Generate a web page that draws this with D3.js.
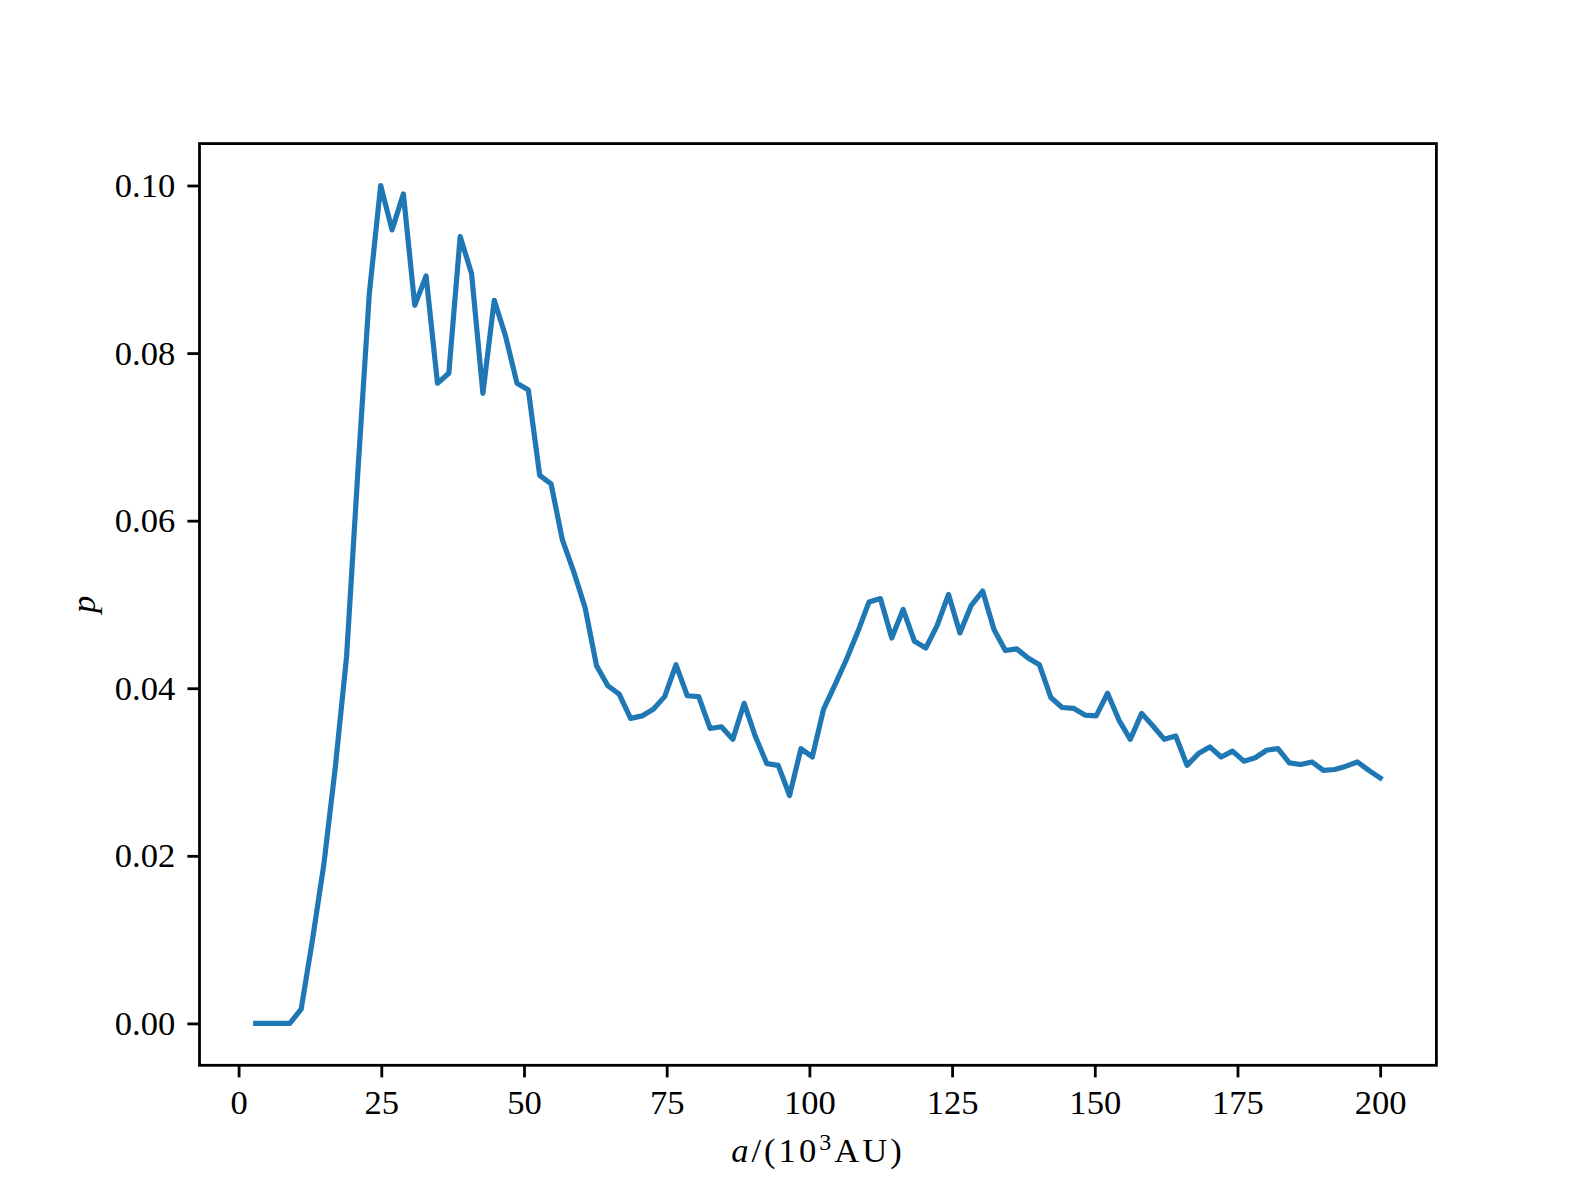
<!DOCTYPE html>
<html>
    <head>
        <title> p versus a </title>
        <script type="text/javascript" src="https://d3js.org/d3.v7.min.js"></script>
        <style>
            body { margin: 0; background: #ffffff; }
        </style>
    </head>

    <body>
        <div id="my_chart">
        </div>
    </body>

    <script type="text/javascript">
        // semi-major axis a, in units of 10^3 AU
        var a_values = [3.00, 4.99, 6.98, 8.97, 10.96, 12.95, 14.94, 16.93, 18.92, 20.91,
                        22.90, 24.89, 26.88, 28.87, 30.86, 32.85, 34.84, 36.83, 38.82, 40.81,
                        42.80, 44.79, 46.78, 48.77, 50.76, 52.75, 54.74, 56.73, 58.72, 60.71,
                        62.70, 64.69, 66.68, 68.67, 70.66, 72.65, 74.64, 76.63, 78.62, 80.61,
                        82.60, 84.59, 86.58, 88.57, 90.56, 92.55, 94.54, 96.53, 98.52, 100.51,
                        102.49, 104.48, 106.47, 108.46, 110.45, 112.44, 114.43, 116.42, 118.41, 120.40,
                        122.39, 124.38, 126.37, 128.36, 130.35, 132.34, 134.33, 136.32, 138.31, 140.30,
                        142.29, 144.28, 146.27, 148.26, 150.25, 152.24, 154.23, 156.22, 158.21, 160.20,
                        162.19, 164.18, 166.17, 168.16, 170.15, 172.14, 174.13, 176.12, 178.11, 180.10,
                        182.09, 184.08, 186.07, 188.06, 190.05, 192.04, 194.03, 196.02, 198.01, 200.00];
        // probability p
        var p_values = [0.0000, 0.0000, 0.0000, 0.0000, 0.0017, 0.0100, 0.0190, 0.0305, 0.0438, 0.0660,
                        0.0871, 0.1000, 0.0947, 0.0990, 0.0857, 0.0892, 0.0764, 0.0776, 0.0939, 0.0895,
                        0.0752, 0.0863, 0.0820, 0.0764, 0.0756, 0.0654, 0.0644, 0.0577, 0.0539, 0.0496,
                        0.0427, 0.0403, 0.0393, 0.0364, 0.0367, 0.0375, 0.0390, 0.0428, 0.0391, 0.0390,
                        0.0352, 0.0354, 0.0339, 0.0382, 0.0342, 0.0310, 0.0308, 0.0272, 0.0328, 0.0318,
                        0.0375, 0.0404, 0.0434, 0.0467, 0.0503, 0.0507, 0.0460, 0.0494, 0.0456, 0.0448,
                        0.0475, 0.0512, 0.0466, 0.0499, 0.0516, 0.0470, 0.0445, 0.0447, 0.0436, 0.0428,
                        0.0389, 0.0377, 0.0376, 0.0368, 0.0367, 0.0394, 0.0362, 0.0339, 0.0370, 0.0355,
                        0.0339, 0.0343, 0.0308, 0.0322, 0.0330, 0.0318, 0.0325, 0.0313, 0.0317, 0.0326,
                        0.0328, 0.0311, 0.0309, 0.0312, 0.0302, 0.0303, 0.0307, 0.0312, 0.0302, 0.0293];
        // tick values
        var x_ticks = [0, 25, 50, 75, 100, 125, 150, 175, 200];
        var y_ticks = [0.00, 0.02, 0.04, 0.06, 0.08, 0.10];

        // figure size and the axes box inside it (matplotlib style fractions)
        var svg_size = {width: 1596, height: 1197};
        var margin = {top: 143.6, right: 159.6, bottom: 131.7, left: 199.5};
        var width = svg_size.width - margin.left - margin.right;
        var height = svg_size.height - margin.top - margin.bottom;

        var font = '"Liberation Serif", "DejaVu Serif", serif';
        var font_size = 34.6;
        var tick_len = 12.1;

        var dataset = a_values.map(function(a, i){
            return {a: a, p: p_values[i]};
        });

        var svg = d3.select('#my_chart')
                    .append('svg')
                    .attr('width', svg_size.width)
                    .attr('height', svg_size.height);

        var svg_g = svg.append('g')
                       .attr('transform', 'translate(' + margin.left + ', ' + margin.top + ')');

        // domains padded by 5% like matplotlib autoscale
        var x_min = d3.min(a_values), x_max = d3.max(a_values);
        var x_pad = (x_max - x_min) * 0.05;
        var x_axis_scale = d3.scaleLinear()
                             .domain([x_min - x_pad, x_max + x_pad])
                             .range([0, width]);

        var y_min = d3.min(p_values), y_max = d3.max(p_values);
        var y_pad = (y_max - y_min) * 0.05;
        var y_axis_scale = d3.scaleLinear()
                             .domain([y_min - y_pad, y_max + y_pad])
                             .range([height, 0]);

        // the line
        var line = d3.line()
                     .x(function(d){ return x_axis_scale(d.a); })
                     .y(function(d){ return y_axis_scale(d.p); });

        svg_g.append('path')
             .datum(dataset)
             .attr('d', line)
             .attr('fill', 'none')
             .attr('stroke', '#1f77b4')
             .attr('stroke-width', 5.2)
             .attr('stroke-linejoin', 'round')
             .attr('stroke-linecap', 'square');

        // x axis at the bottom
        var x_axis = svg_g.append('g')
                          .attr('transform', 'translate(0, ' + height + ')')
                          .call(d3.axisBottom(x_axis_scale)
                                  .tickValues(x_ticks)
                                  .tickFormat(d3.format('d'))
                                  .tickSize(tick_len)
                                  .tickPadding(12.1)
                                  .tickSizeOuter(0));

        // y axis on the left
        var y_axis = svg_g.append('g')
                          .call(d3.axisLeft(y_axis_scale)
                                  .tickValues(y_ticks)
                                  .tickFormat(d3.format('.2f'))
                                  .tickSize(tick_len)
                                  .tickPadding(12.1)
                                  .tickSizeOuter(0));

        [x_axis, y_axis].forEach(function(ax){
            ax.select('.domain').remove();
            ax.attr('font-family', font).attr('font-size', font_size);
            ax.selectAll('.tick line').attr('stroke', '#000').attr('stroke-width', 2.8);
            ax.selectAll('.tick text').attr('fill', '#000');
        });

        // frame around the axes
        svg_g.append('rect')
             .attr('x', 0)
             .attr('y', 0)
             .attr('width', width)
             .attr('height', height)
             .attr('fill', 'none')
             .attr('stroke', '#000')
             .attr('stroke-width', 2.8);

        // x axis label: a/(10^3 AU)
        var x_label = svg_g.append('text')
                           .attr('x', width / 2)
                           .attr('y', height + 97)
                           .attr('text-anchor', 'middle')
                           .attr('font-family', font)
                           .attr('font-size', font_size)
                           .attr('letter-spacing', 3);
        x_label.append('tspan').attr('font-style', 'italic').text('a');
        x_label.append('tspan').text('/(10');
        x_label.append('tspan').attr('dy', -12).attr('font-size', 24).text('3');
        x_label.append('tspan').attr('dy', 12).text('AU)');

        // y axis label: p
        svg_g.append('text')
             .attr('transform', 'translate(' + (-105) + ', ' + height / 2 + ') rotate(-90)')
             .attr('text-anchor', 'middle')
             .attr('font-family', font)
             .attr('font-size', font_size)
             .attr('font-style', 'italic')
             .text('p');
    </script>
</html>
